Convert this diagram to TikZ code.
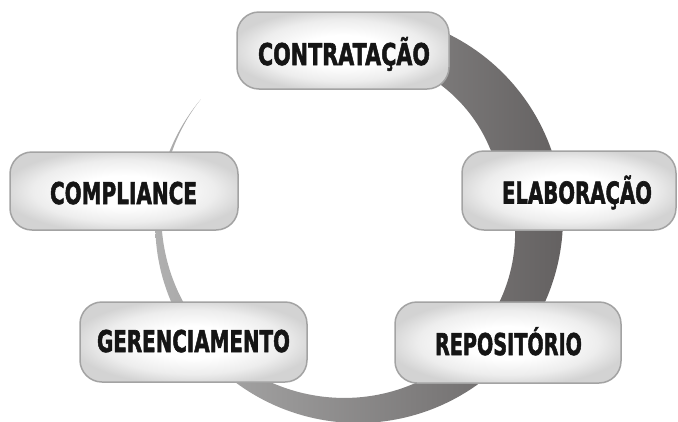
\documentclass[tikz,border=0pt]{standalone}
\usepackage{fontspec}
\usepackage{graphicx}
\setmainfont{DejaVu Sans}
\newfontfamily\stagefont{DejaVu Sans Bold}[FakeBold=2.2]
\definecolor{ringleft}{HTML}{B0B0B0}
\definecolor{ringright}{HTML}{646161}
\definecolor{boxborder}{HTML}{A3A3A3}
\definecolor{boxmid}{HTML}{EDEDED}
\definecolor{boxouter}{HTML}{D3D3D3}
\definecolor{labeltext}{HTML}{151515}
\pgfdeclareradialshading{boxshade}{\pgfpointorigin}{color(0bp)=(white); color(10bp)=(white); color(20bp)=(boxmid); color(27bp)=(boxouter); color(50bp)=(boxouter)}
\tikzset{
  ringstyle/.style={left color=ringleft, right color=ringright, draw=none},
  stagebox/.style={rounded corners=22pt, draw=boxborder, line width=1.5pt,
    shading=boxshade, inner sep=0pt},
  stagelabel/.style={font=\fontsize{30}{30}\stagefont, text=labeltext,
    inner sep=0pt, anchor=base}
}
\begin{document}
\begin{tikzpicture}[x=1pt,y=-1pt,
  declare function={
    ringt(\a)=ifthenelse(\a>27, 56-0.25*(\a-27), 56*(max((\a+217)/244,0.00001))^1.2);
    ringR(\a)=205-ifthenelse(\a<-150, 8*(max((-150-\a)/67,0.00001))^1.5, 0);
  }]
\useasboundingbox (0,0) rectangle (678,421);
\def\cx{358}\def\cy{218}
% ring
\path[ringstyle]
  plot[domain=85:-217, samples=180] ({\cx+ringR(\x)*cos(\x)}, {\cy-ringR(\x)*sin(\x)})
  -- plot[domain=-217:85, samples=180] ({\cx+(ringR(\x)-ringt(\x))*cos(\x)}, {\cy-(ringR(\x)-ringt(\x))*sin(\x)})
  -- cycle;
% boxes
\node[stagebox, minimum width=212pt, minimum height=77pt] (contr) at (343,50.5) {};
\node[stagebox, minimum width=214pt, minimum height=79pt] (elab) at (569,190.5) {};
\node[stagebox, minimum width=226pt, minimum height=81pt] (repo) at (508,342.5) {};
\node[stagebox, minimum width=227pt, minimum height=80pt] (geren) at (193.5,342) {};
\node[stagebox, minimum width=228pt, minimum height=78pt] (compl) at (124,191) {};
% labels
\node[stagelabel] (contrl) at (344,65) {\resizebox{172pt}{\height}{CONTRATAÇÃO}};
\node[stagelabel] (elabl) at (577,203.5) {\resizebox{150pt}{\height}{ELABORAÇÃO}};
\node[stagelabel] (repol) at (508.5,355) {\resizebox{147pt}{\height}{REPOSITÓRIO}};
\node[stagelabel] (gerenl) at (193.5,352) {\resizebox{193pt}{\height}{GERENCIAMENTO}};
\node[stagelabel] (compll) at (123.5,204) {\resizebox{147pt}{\height}{COMPLIANCE}};
\end{tikzpicture}
\end{document}
